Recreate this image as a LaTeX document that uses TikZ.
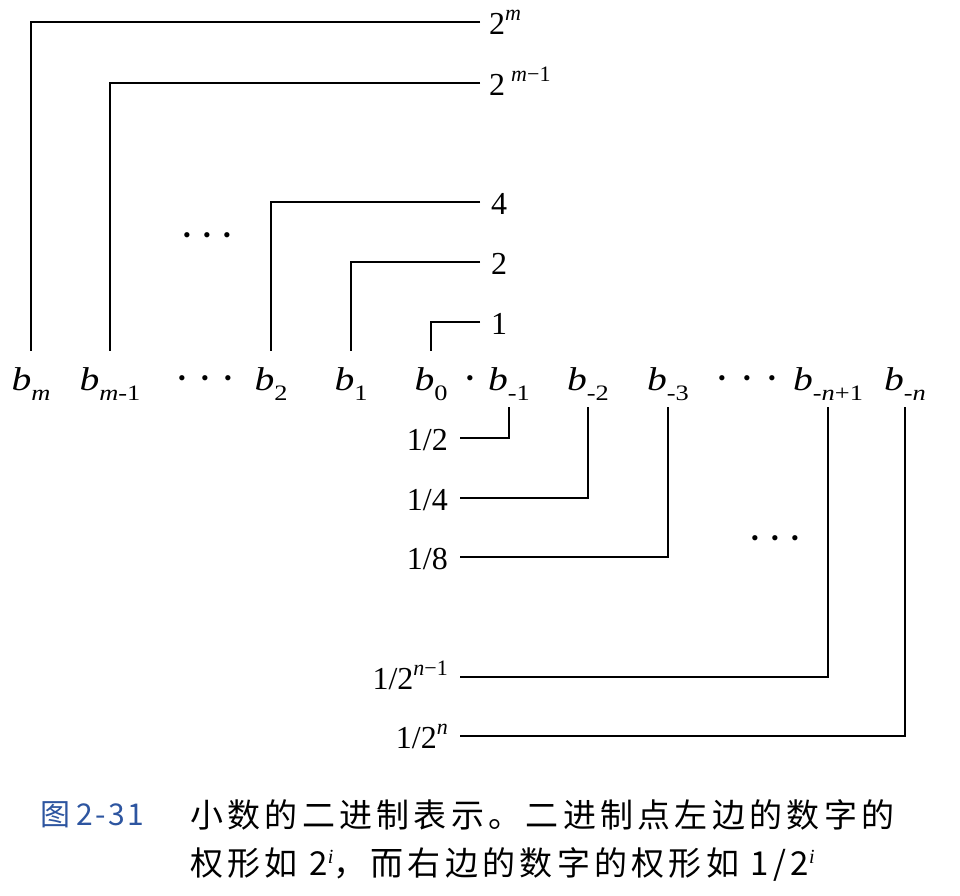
\documentclass[tikz,border=0pt]{standalone}
\usepackage{fontspec}
\setmainfont{Liberation Serif}
\newfontfamily\cjk[LetterSpace=13]{Noto Sans CJK SC}
\newfontfamily\cjkfig[LetterSpace=8]{Noto Sans CJK SC}
\definecolor{capblue}{RGB}{45,85,160}
\newcommand{\bv}[1]{\scalebox{1.2}[1]{\textit{b}\raisebox{-10pt}{\fontsize{22}{22}\selectfont #1}}}
\newcommand{\nv}[2]{#1\raisebox{14pt}{\fontsize{22}{22}\selectfont #2}}
\newcommand{\mi}[1]{\textit{#1}}
\newcommand{\supi}{\raisebox{12pt}{\rmfamily\itshape\fontsize{20}{20}\selectfont i}}
\begin{document}
\begin{tikzpicture}[x=1pt,y=-1pt,
  blab/.style={inner sep=0pt, anchor=base, font=\fontsize{33}{36}\selectfont},
  ulab/.style={inner sep=0pt, anchor=base west, font=\fontsize{32}{36}\selectfont},
  llab/.style={inner sep=0pt, anchor=base east, font=\fontsize{32}{36}\selectfont},
  dotrow/.style={inner sep=0pt, font=\fontsize{22}{22}\selectfont},
  wire/.style={draw=black, line width=2.8pt},
  captext/.style={inner sep=0pt, anchor=west, font=\cjk\fontsize{33}{33}\selectfont}]
\useasboundingbox (0,0) rectangle (960,895);
\fill[white] (0,0) rectangle (960,895);

% bit labels
\node[blab] (bm)   at (31,390)  {\bv{\mi{m}}};
\node[blab] (bm1)  at (110,390) {\bv{\mi{m}-1}};
\node[blab] (b2)   at (271,390) {\bv{2}};
\node[blab] (b1)   at (351,390) {\bv{1}};
\node[blab] (b0)   at (431,390) {\bv{0}};
\node[blab] (bn1)  at (509,390) {\bv{-1}};
\node[blab] (bn2)  at (588,390) {\bv{-2}};
\node[blab] (bn3)  at (668,390) {\bv{-3}};
\node[blab] (bnp)  at (828,390) {\bv{-\mi{n}+1}};
\node[blab] (bnn)  at (905,390) {\bv{-\mi{n}}};
\node[dotrow] (rowdotsL) at (205,381) {•\hspace{15.3pt}•\hspace{15.3pt}•};
\node[dotrow] (rowdotsR) at (747,381) {•\hspace{17.3pt}•\hspace{17.3pt}•};
\node[dotrow] (point) at (470,381) {•};
\node[dotrow] (updots) at (207,238) {•\hspace{12.3pt}•\hspace{12.3pt}•};
\node[dotrow] (lowdots) at (775,541) {•\hspace{12.3pt}•\hspace{12.3pt}•};

% upper weights
\coordinate (e2m)  at (480,22);
\coordinate (e2m1) at (480,83);
\coordinate (e4)   at (480,202);
\coordinate (e2)   at (480,262);
\coordinate (e1)   at (480,322);
\node[ulab] (t2m)  at (489,34)  {\nv{2}{\mi{m}}};
\node[ulab] (t2m1) at (489,95)  {\nv{2}{\hspace{6pt}\mi{m}−1}};
\node[ulab] (t4)   at (491,214) {4};
\node[ulab] (t2)   at (491,274) {2};
\node[ulab] (t1)   at (491,334) {1};
\draw[wire] (e2m)  -| ([yshift=16pt]bm.north);
\draw[wire] (e2m1) -| ([yshift=16pt]bm1.north);
\draw[wire] (e4)   -| ([yshift=16pt]b2.north);
\draw[wire] (e2)   -| ([yshift=16pt]b1.north);
\draw[wire] (e1)   -| ([yshift=16pt]b0.north);

% lower weights
\coordinate (f2)  at (460,438);
\coordinate (f4)  at (460,498);
\coordinate (f8)  at (460,557);
\coordinate (fn1) at (460,677);
\coordinate (fn)  at (460,736);
\node[llab] (h2)  at (448,450) {1/2};
\node[llab] (h4)  at (448,510) {1/4};
\node[llab] (h8)  at (448,569) {1/8};
\node[llab] (hn1) at (448,689) {\nv{1/2}{\mi{n}−1}};
\node[llab] (hn)  at (448,748) {\nv{1/2}{\mi{n}}};
\draw[wire] (f2)  -| ([yshift=-7pt]bn1.south);
\draw[wire] (f4)  -| ([yshift=-7pt]bn2.south);
\draw[wire] (f8)  -| ([yshift=-7pt]bn3.south);
\draw[wire] (fn1) -| ([yshift=-7pt]bnp.south);
\draw[wire] (fn)  -| ([yshift=-7pt]bnn.south);

% caption
\node[inner sep=0pt, anchor=west, text=capblue, font=\cjkfig\fontsize{30}{30}\selectfont] (fig) at (40,815) {图\hspace{6pt}2-31};
\node[captext] (cap1) at (190,815) {小数的二进制表示。二进制点左边的数字的};
\node[captext] (cap2) at (190,864) {权形如 2\supi，而右边的数字的权形如 1/2\supi};
\end{tikzpicture}
\end{document}
